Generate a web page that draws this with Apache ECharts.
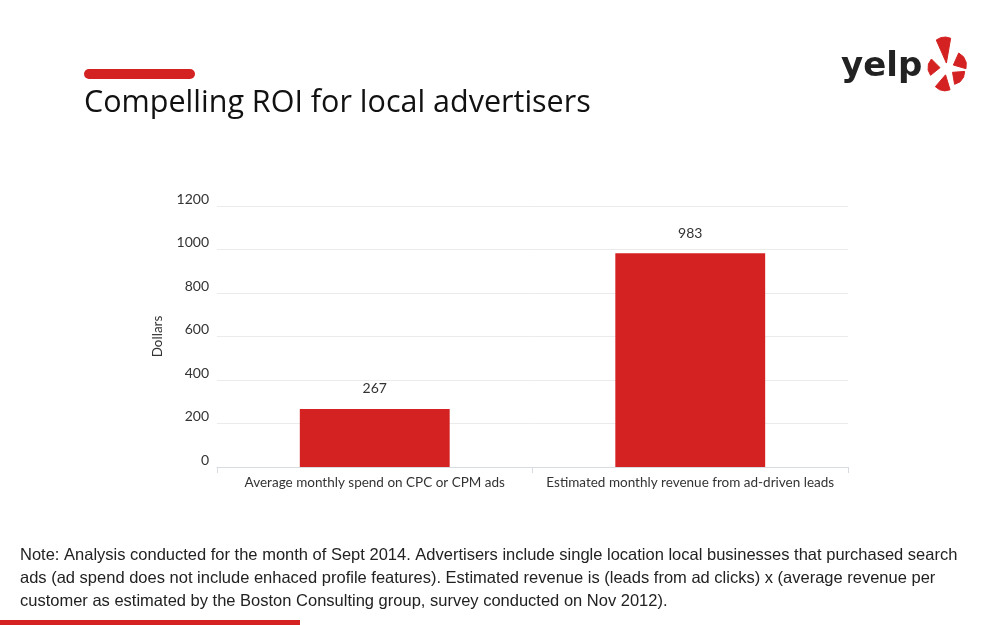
<!DOCTYPE html>
<html><head><meta charset="utf-8">
<script src="https://cdn.jsdelivr.net/npm/echarts@6/dist/echarts.min.js"></script>
<style>html,body{margin:0;padding:0;background:#fff}#c{width:1000px;height:625px}</style>
</head><body><div id="c"></div>
<script>
const categories = ["Average monthly spend on CPC or CPM ads", "Estimated monthly revenue from ad-driven leads"];
const values = [267, 983];
const yTicks = [0, 200, 400, 600, 800, 1000, 1200];
const titleText = "Compelling ROI for local advertisers";
const noteLines = [
  "Note: Analysis conducted for the month of Sept 2014. Advertisers include single location local businesses that purchased search",
  "ads (ad spend does not include enhaced profile features). Estimated revenue is (leads from ad clicks) x (average revenue per",
  "customer as estimated by the Boston Consulting group, survey conducted on Nov 2012)."
];
const RED = '#d42222';
const chart = echarts.init(document.getElementById('c'));
// yelp burst petals (decoration)
const cx = 947, cy = 68;
const petals = [
  {a: -97, r0: 5, r1: 30, dw: 14},
  {a: -25, r0: 7, r1: 19, dw: 27},
  {a: 38, r0: 7, r1: 18, dw: 27},
  {a: 102, r0: 7, r1: 22, dw: 20},
  {a: 183, r0: 7, r1: 18, dw: 27}
];
const pt = (ang, r) => [cx + Math.cos(ang * Math.PI / 180) * r, cy + Math.sin(ang * Math.PI / 180) * r];
const petalEls = petals.map(p => ({
  type: 'polygon',
  shape: {points: [pt(p.a, p.r0), pt(p.a - p.dw, p.r1), pt(p.a - p.dw / 3, p.r1 + 1), pt(p.a + p.dw / 3, p.r1 + 1), pt(p.a + p.dw, p.r1)]},
  style: {fill: RED, stroke: RED, lineWidth: 1, lineJoin: 'round'}
}));
chart.setOption({
  animation: false,
  backgroundColor: '#fff',
  grid: {left: 217, right: 152, top: 206, bottom: 158},
  xAxis: {
    type: 'category', data: categories,
    axisLine: {lineStyle: {color: '#d8dbe0'}},
    axisTick: {show: true, length: 6, lineStyle: {color: '#d8dbe0'}},
    axisLabel: {color: '#333', fontFamily: 'Lato', fontSize: 13.5, margin: 9, interval: 0}
  },
  yAxis: {
    type: 'value', min: yTicks[0], max: yTicks[yTicks.length - 1], interval: 200,
    name: 'Dollars', nameLocation: 'middle', nameGap: 52,
    nameTextStyle: {color: '#333', fontFamily: 'Lato', fontSize: 13.5},
    axisLine: {show: false}, axisTick: {show: false},
    axisLabel: {color: '#333', fontFamily: 'Lato', fontSize: 14, margin: 8, verticalAlign: 'bottom', formatter: v => String(v)},
    splitLine: {lineStyle: {color: '#ebebeb'}}
  },
  series: [{
    type: 'bar', data: values, barWidth: '47.5%',
    itemStyle: {color: RED},
    label: {show: true, position: 'top', distance: 13, color: '#333', fontFamily: 'Lato', fontSize: 14}
  }],
  graphic: [
    {type: 'rect', shape: {x: 84, y: 69, width: 111, height: 10, r: 5}, style: {fill: RED}},
    {type: 'text', left: 84, top: 88, style: {text: titleText, fill: '#111', font: '30.5px "Open Sans", sans-serif'}},
    {type: 'text', left: 841, top: 50, style: {text: 'yelp', fill: '#222', font: 'bold 34px "DejaVu Sans", sans-serif'}},
    {type: 'group', children: petalEls},
    {type: 'text', left: 20, top: 544, style: {text: noteLines.join('\n'), fill: '#222', font: '16.5px "Liberation Sans Narrow", "Liberation Sans", sans-serif', lineHeight: 23}},
    {type: 'rect', shape: {x: 0, y: 620, width: 300, height: 5}, style: {fill: RED}}
  ]
});
</script></body></html>
